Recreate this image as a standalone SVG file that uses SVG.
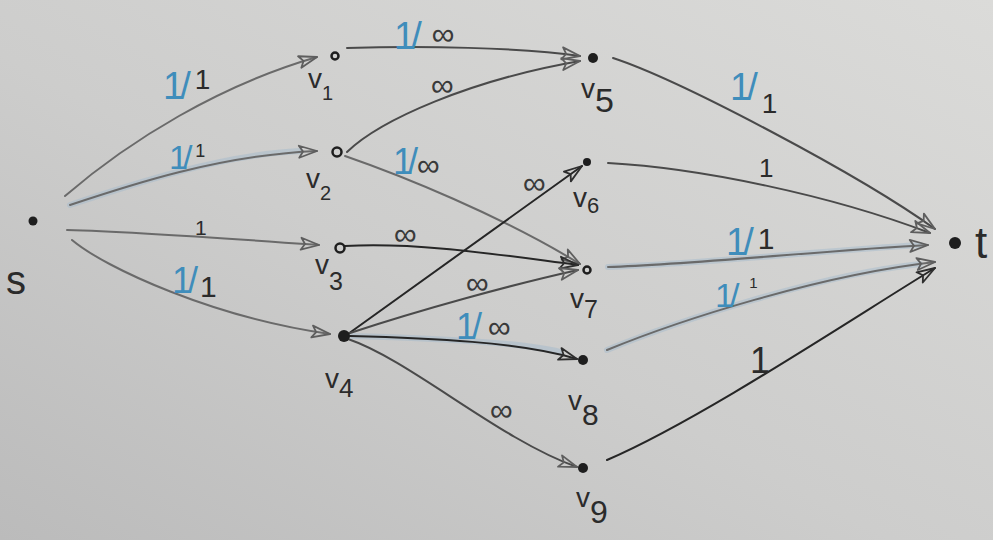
<svg xmlns="http://www.w3.org/2000/svg" width="993" height="540" viewBox="0 0 993 540">
  <defs>
    <linearGradient id="paper" x1="1" y1="0" x2="0" y2="1">
      <stop offset="0" stop-color="#dbdbd9"/>
      <stop offset="0.55" stop-color="#cdcdcc"/>
      <stop offset="1" stop-color="#bbbbbb"/>
    </linearGradient>
    <marker id="arr-light" markerUnits="userSpaceOnUse" markerWidth="24" markerHeight="16" refX="21" refY="8" orient="auto">
      <path d="M3,2 L21,8 L3,14 L7,8 Z" fill="none" stroke="#5e5e5e" stroke-width="1.8" stroke-linejoin="round"/>
    </marker>
    <marker id="arr-dark" markerUnits="userSpaceOnUse" markerWidth="24" markerHeight="16" refX="21" refY="8" orient="auto">
      <path d="M3,2 L21,8 L3,14 L7,8 Z" fill="none" stroke="#2e2e2e" stroke-width="1.8" stroke-linejoin="round"/>
    </marker>
    <style>
      .edge { fill: none; stroke-width: 2; stroke-linecap: round; }
      .light { stroke: #6a6a6a; marker-end: url(#arr-light); }
      .mid { stroke: #4a4a4a; marker-end: url(#arr-light); }
      .dark { stroke: #262626; marker-end: url(#arr-dark); }
      .haze { fill: none; stroke: #9fb9cb; stroke-width: 6; stroke-opacity: 0.45; stroke-linecap: round; }
      text { font-family: "Liberation Sans", "DejaVu Sans", sans-serif; fill: #2b2b2b; }
      .blue { fill: #3f8dbb; }
      .inf { font-size: 32px; fill: #3a3a3a; }
      .dot { fill: #1e1e1e; }
      .ring { fill: none; stroke: #1e1e1e; stroke-width: 2.5; }
      .nl { font-size: 28px; }
    </style>
  </defs>

  <rect width="993" height="540" fill="url(#paper)"/>

  <!-- connectors -->
  <g id="connectors">
    <!-- faint blue shading along flow paths -->
    <path class="haze" d="M70,205 C130,185 220,155 300,151"/>
    <path class="haze" d="M608,267 C700,264 830,250 920,245"/>
    <path class="haze" d="M607,350 C680,320 820,275 920,264"/>
    <path class="haze" d="M352,336 C430,338 520,342 560,352"/>

    <!-- s to first layer -->
    <path id="e-s-v1" class="edge light" d="M65,196 C130,140 220,85 317,57"/>
    <path id="e-s-v2" class="edge light" d="M70,205 C130,185 220,155 317,151"/>
    <path id="e-s-v3" class="edge light" d="M67,230 C140,232 250,240 319,245"/>
    <path id="e-s-v4" class="edge light" d="M72,240 C105,268 215,318 330,334"/>

    <!-- first layer to second layer -->
    <path id="e-v1-v5" class="edge mid" d="M347,48 C420,46 520,47 580,56"/>
    <path id="e-v2-v5" class="edge mid" d="M347,152 C380,120 470,80 580,61"/>
    <path id="e-v2-v7" class="edge light" d="M345,156 C400,175 500,215 580,264"/>
    <path id="e-v3-v7" class="edge dark" d="M345,246 C420,242 500,255 578,265"/>
    <path id="e-v4-v6" class="edge dark" d="M348,334 L582,166"/>
    <path id="e-v4-v7" class="edge mid" d="M350,333 C420,310 510,285 578,270"/>
    <path id="e-v4-v8" class="edge dark" d="M350,336 C430,338 520,342 577,359" stroke-width="2.5"/>
    <path id="e-v4-v9" class="edge mid" d="M348,339 C410,360 500,440 577,467"/>

    <!-- second layer to t -->
    <path id="e-v5-t" class="edge mid" d="M613,58 C680,80 860,175 935,229"/>
    <path id="e-v6-t" class="edge mid" d="M608,163 C700,168 830,195 930,233"/>
    <path id="e-v7-t" class="edge light" d="M608,267 C700,264 830,250 928,245"/>
    <path id="e-v8-t" class="edge light" d="M607,350 C680,320 820,275 935,262"/>
    <path id="e-v9-t" class="edge dark" d="M607,460 C700,420 850,320 935,268"/>

    <!-- capacity / flow labels -->
    <text x="163" y="99" font-size="38" letter-spacing="-4"><tspan class="blue">1/</tspan><tspan font-size="28" dy="-10" dx="8">1</tspan></text>
    <text x="169" y="169" font-size="34" letter-spacing="-5"><tspan class="blue">1/</tspan><tspan font-size="18" dy="-12" dx="8">1</tspan></text>
    <text x="195" y="235" font-size="21">1</text>
    <text x="172" y="293" font-size="36" letter-spacing="-4"><tspan class="blue">1/</tspan><tspan font-size="30" dy="4" dx="6">1</tspan></text>

    <text x="394" y="49" font-size="38" letter-spacing="-4"><tspan class="blue">1/</tspan><tspan class="inf" dy="-4" dx="14">∞</tspan></text>
    <text x="431" y="96" class="inf">∞</text>
    <text x="393" y="174" font-size="36" letter-spacing="-5"><tspan class="blue">1/</tspan><tspan class="inf" dy="2" dx="4">∞</tspan></text>
    <text x="394" y="245" class="inf">∞</text>
    <text x="523" y="194" class="inf">∞</text>
    <text x="466" y="294" class="inf">∞</text>
    <text x="456" y="339" font-size="36" letter-spacing="-4"><tspan class="blue">1/</tspan><tspan class="inf" dy="-1" dx="10">∞</tspan></text>
    <text x="490" y="421" class="inf">∞</text>

    <text x="730" y="100" font-size="38" letter-spacing="-4"><tspan class="blue">1/</tspan><tspan font-size="28" dy="13" dx="8">1</tspan></text>
    <text x="759" y="177" font-size="26">1</text>
    <text x="726" y="255" font-size="38" letter-spacing="-4"><tspan class="blue">1/</tspan><tspan font-size="30" dy="-6" dx="8">1</tspan></text>
    <text x="715" y="307" font-size="34" letter-spacing="-4"><tspan class="blue">1/</tspan><tspan font-size="15" dy="-19" dx="14">1</tspan></text>
    <text x="750" y="373" font-size="36">1</text>
  </g>

  <!-- nodes -->
  <g id="node-s">
    <circle class="dot" cx="33" cy="221" r="4.5"/>
    <text x="6" y="294" font-size="40">s</text>
  </g>
  <g id="node-v1">
    <circle class="ring" cx="335" cy="56" r="3.5"/>
    <text class="nl" x="308" y="88">v<tspan font-size="20" dy="12">1</tspan></text>
  </g>
  <g id="node-v2">
    <circle class="ring" cx="337" cy="152" r="4.5"/>
    <text class="nl" x="306" y="188">v<tspan font-size="20" dy="12">2</tspan></text>
  </g>
  <g id="node-v3">
    <circle class="ring" cx="340" cy="248" r="4.5"/>
    <text class="nl" x="315" y="274">v<tspan font-size="25" dy="16">3</tspan></text>
  </g>
  <g id="node-v4">
    <circle class="dot" cx="344" cy="336" r="6"/>
    <text class="nl" x="325" y="388">v<tspan font-size="26" dy="9">4</tspan></text>
  </g>
  <g id="node-v5">
    <circle class="dot" cx="593" cy="58" r="5"/>
    <text class="nl" x="581" y="98">v<tspan font-size="34" dy="14">5</tspan></text>
  </g>
  <g id="node-v6">
    <circle class="dot" cx="587" cy="162" r="4"/>
    <text class="nl" x="573" y="207">v<tspan font-size="22" dy="6">6</tspan></text>
  </g>
  <g id="node-v7">
    <circle class="ring" cx="587" cy="270" r="3.5"/>
    <text class="nl" x="570" y="308">v<tspan font-size="25" dy="10">7</tspan></text>
  </g>
  <g id="node-v8">
    <circle class="dot" cx="583" cy="360" r="5"/>
    <text class="nl" x="568" y="410">v<tspan font-size="30" dy="15">8</tspan></text>
  </g>
  <g id="node-v9">
    <circle class="dot" cx="583" cy="468" r="5"/>
    <text class="nl" x="576" y="507">v<tspan font-size="32" dy="16">9</tspan></text>
  </g>
  <g id="node-t">
    <circle class="dot" cx="955" cy="243" r="6"/>
    <text x="975" y="258" font-size="44">t</text>
  </g>
</svg>
